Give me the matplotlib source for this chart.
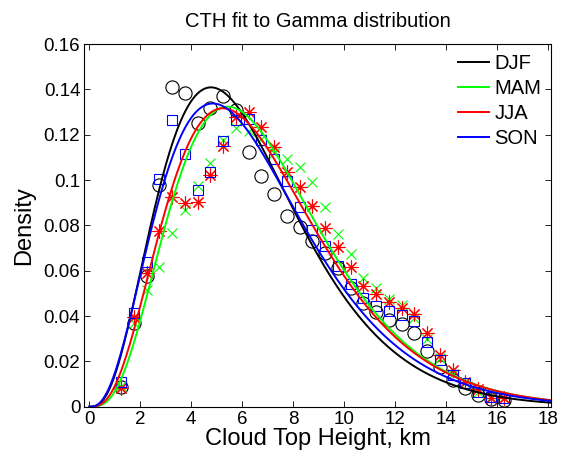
import math
import numpy as np
import matplotlib
matplotlib.use("Agg")
import matplotlib.pyplot as plt

plt.rcParams['font.family'] = ['Liberation Sans', 'DejaVu Sans']

# bin centres of the cloud top height histograms (km)
bins = [1.25, 1.75, 2.25, 2.75, 3.25, 3.75, 4.25, 4.75, 5.25, 5.75, 6.25,
        6.75, 7.25, 7.75, 8.25, 8.75, 9.25, 9.75, 10.25, 10.75, 11.25,
        11.75, 12.25, 12.75, 13.25, 13.75, 14.25, 14.75, 15.25, 15.75, 16.25]

djf = [0.0088, 0.0368, 0.0577, 0.0978, 0.1412, 0.1385, 0.1253, 0.1319, 0.1371,
       0.1309, 0.1125, 0.1019, 0.0938, 0.0843, 0.0791, 0.0731, 0.0680, 0.0611,
       0.0522, 0.0456, 0.0419, 0.0382, 0.0365, 0.0324, 0.0247, 0.0174, 0.0118,
       0.0081, 0.0052, 0.0034, 0.0030]
mam = [0.0090, 0.0368, 0.0515, 0.0618, 0.0767, 0.0870, 0.0974, 0.1076, 0.1176,
       0.1228, 0.1216, 0.1180, 0.1120, 0.1093, 0.1056, 0.0990, 0.0882, 0.0764,
       0.0673, 0.0569, 0.0522, 0.0474, 0.0449, 0.0390, 0.0298, 0.0213, 0.0146,
       0.0103, 0.0066, 0.0041, 0.0037]
jja = [0.0081, 0.0394, 0.0588, 0.0774, 0.0926, 0.0897, 0.0904, 0.1022, 0.1150,
       0.1279, 0.1301, 0.1235, 0.1144, 0.1037, 0.0968, 0.0886, 0.0788, 0.0704,
       0.0615, 0.0532, 0.0496, 0.0460, 0.0436, 0.0410, 0.0324, 0.0230, 0.0162,
       0.0110, 0.0077, 0.0037, 0.0037]
son = [0.0110, 0.0415, 0.0640, 0.1003, 0.1265, 0.1113, 0.0956, 0.1035, 0.1172,
       0.1265, 0.1269, 0.1176, 0.1095, 0.0996, 0.0882, 0.0781, 0.0708, 0.0621,
       0.0540, 0.0478, 0.0444, 0.0421, 0.0405, 0.0378, 0.0287, 0.0206, 0.0140,
       0.0103, 0.0066, 0.0041, 0.0037]

seasons = ['DJF', 'MAM', 'JJA', 'SON']
# fitted gamma parameters (shape k, scale theta)
shape = [4.0, 4.4, 4.15, 3.8]
scale = [1.59, 1.595, 1.663, 1.73]

colors = ['k', (0, 1, 0), (1, 0, 0), (0, 0, 1)]
markers = ['o', 'x', (8, 2, 0), 's']
msizes = [9.5, 7.5, 10, 7]


def gamma_pdf(x, k, theta):
    return x ** (k - 1) * np.exp(-x / theta) / (math.gamma(k) * theta ** k)


xs = np.linspace(0, 18.2, 400)
data = [djf, mam, jja, son]

fig = plt.figure(figsize=(5.61, 4.59), dpi=100)
ax = fig.add_axes([0.1506, 0.114, 0.8324, 0.790])

for vals, c, m, ms in zip(data, colors, markers, msizes):
    ax.plot(bins, vals, linestyle='none', marker=m, markersize=ms,
            markerfacecolor='none', markeredgecolor=c, markeredgewidth=0.8)

lines = []
for name, k, th, c in zip(seasons, shape, scale, colors):
    ln, = ax.plot(xs, gamma_pdf(xs, k, th), color=c, linewidth=1.4, label=name)
    lines.append(ln)

ax.set_xlim(-0.19, 18.13)
ax.set_ylim(0, 0.16)
ax.set_xticks(np.arange(0, 19, 2))
ax.set_yticks(np.arange(0, 0.161, 0.02))
ax.set_yticklabels(['0', '0.02', '0.04', '0.06', '0.08', '0.1', '0.12',
                    '0.14', '0.16'])
ax.tick_params(direction='in', top=True, right=True, labelsize=13.5,
               length=4, width=0.6, pad=3)
for s in ax.spines.values():
    s.set_linewidth(0.8)

ax.set_xlabel('Cloud Top Height, km', fontsize=17, labelpad=0)
ax.set_ylabel('Density', fontsize=17, labelpad=6)
ax.set_title('CTH fit to Gamma distribution', fontsize=14.5, pad=12)

ax.legend(handles=lines, loc='upper right', frameon=False, fontsize=14.5,
          handlelength=1.55, handletextpad=0.25, labelspacing=0.3,
          borderaxespad=0.1)

fig.savefig('out.png', dpi=100)
